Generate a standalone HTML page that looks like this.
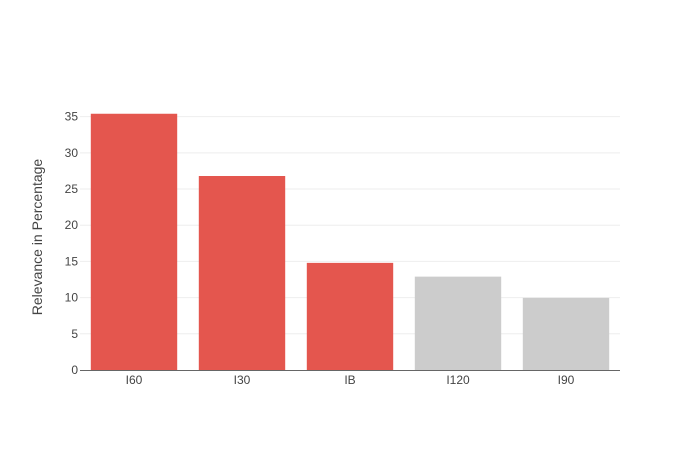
<!DOCTYPE html>
<html><head><meta charset="utf-8"><style>
html,body{margin:0;padding:0;background:#fff;}
svg{display:block;font-family:"Liberation Sans",Arial,sans-serif;}
</style></head><body>
<svg id="chart" width="700" height="450"></svg>
<script>
const categories = ["I60","I30","IB","I120","I90"];
const values = [35.4, 26.8, 14.8, 12.9, 9.96];
const highlighted = [true, true, true, false, false];
const yTicks = [0,5,10,15,20,25,30,35];

const NS="http://www.w3.org/2000/svg";
const svg=document.getElementById('chart');
const L=80,R=620,T=100,B=370,yMax=37.3;
const y=v=>B-(v/yMax)*(B-T);
const band=(R-L)/categories.length;
const x=i=>L+band*i+band/2;
function mk(tag,attrs,parent){const e=document.createElementNS(NS,tag);for(const k in attrs)e.setAttribute(k,attrs[k]);(parent||svg).appendChild(e);return e;}

const grid=mk('g',{});


yTicks.forEach(t=>{
  if(t>0){const g=mk('line',{x1:L,x2:R,y1:y(t),y2:y(t),stroke:'#eee','stroke-width':1},grid);
  
  }
  const tx=mk('text',{x:L-2,y:y(t)+4,'text-anchor':'end','font-size':12,fill:'#444'});
  tx.textContent=t;
  
  
});
categories.forEach((c,i)=>{
  const w=band*0.8;
  const r=mk('rect',{x:x(i)-w/2,y:y(values[i]),width:w,height:B-y(values[i]),fill:highlighted[i]?'rgb(228,86,78)':'#cccccc'});
  
  
  const tx=mk('text',{x:x(i),y:B+14,'text-anchor':'middle','font-size':12,fill:'#444'});
  tx.textContent=c;
  
  
});
const ax=mk('line',{x1:L,x2:R,y1:B+0.5,y2:B+0.5,stroke:'#666','stroke-width':1});


const yt=mk('text',{x:42,y:(T+B)/2+2,'text-anchor':'middle','font-size':14,fill:'#444',transform:'rotate(-90 42 '+((T+B)/2+2)+')'});
yt.textContent='Relevance in Percentage';


</script>
</body></html>
